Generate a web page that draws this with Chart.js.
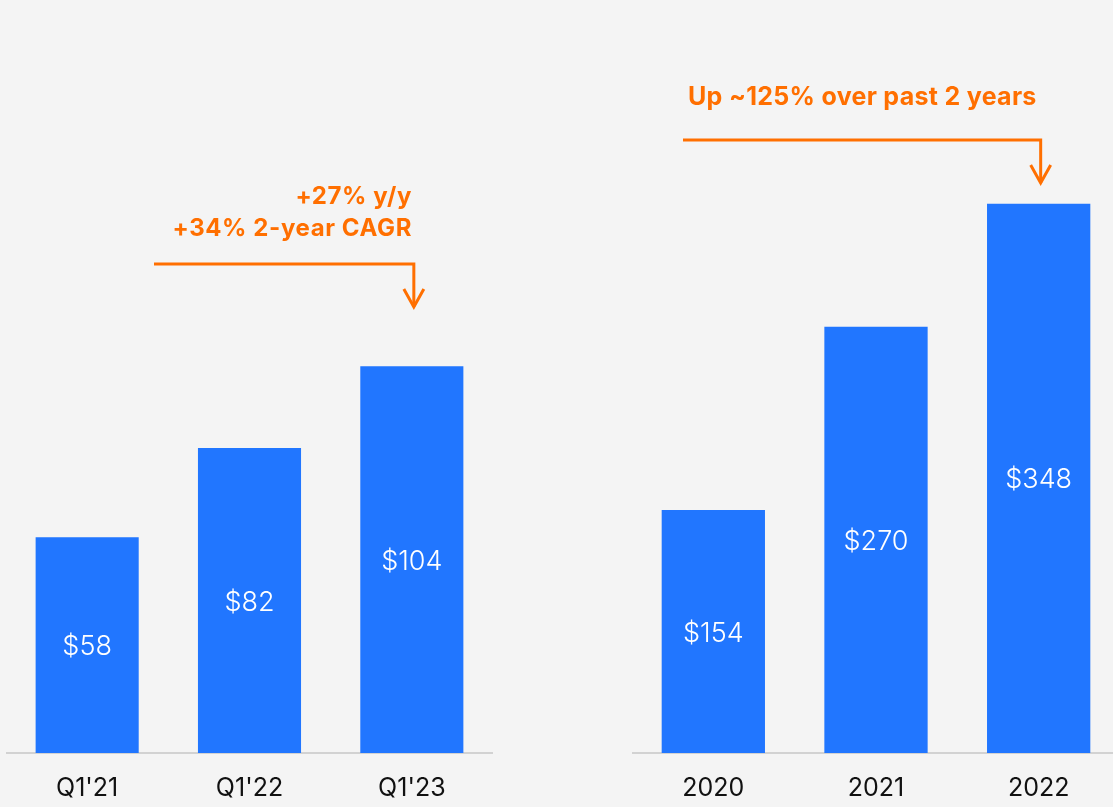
<!DOCTYPE html>
<html>
<head>
<meta charset="utf-8">
<script src="https://cdn.jsdelivr.net/npm/chart.js@4.4.1/dist/chart.umd.min.js"></script>
<style>
  html, body { margin: 0; padding: 0; background: #f4f4f4; overflow: hidden; width: 1113px; height: 807px; }
  .box { position: absolute; top: 0; height: 807px; }
  #left { left: 6px; width: 487px; }
  #right { left: 632px; width: 488px; }
</style>
</head>
<body>
<div class="box" id="left"><canvas id="chartLeft"></canvas></div>
<div class="box" id="right"><canvas id="chartRight"></canvas></div>
<script>
const quarterLabels = ["Q1'21", "Q1'22", "Q1'23"]
const quarterValues = [58, 82, 104]
const yearLabels = ['2020', '2021', '2022']
const yearValues = [154, 270, 348]

const BLUE = '#2176ff'
const ORANGE = '#ff6f00'

// white $ labels in the middle of each bar
const valueLabels = {
  id: 'valueLabels',
  afterDatasetsDraw(chart) {
    const ctx = chart.ctx
    const meta = chart.getDatasetMeta(0)
    ctx.save()
    ctx.fillStyle = '#ffffff'
    ctx.font = '300 27px Inter'
    ctx.textAlign = 'center'
    ctx.textBaseline = 'middle'
    meta.data.forEach((bar, i) => {
      const v = chart.data.datasets[0].data[i]
      ctx.fillText('$' + v, bar.x, (bar.y + bar.base) / 2 + 2)
    })
    ctx.restore()
  }
}

// orange callout text + bent arrow pointing at the last bar
function callout(opts) {
  return {
    id: 'callout',
    afterDraw(chart) {
      const ctx = chart.ctx
      const bars = chart.getDatasetMeta(0).data
      const endX = bars[bars.length - 1].x + 2
      ctx.save()
      ctx.fillStyle = ORANGE
      ctx.font = opts.font
      ctx.letterSpacing = opts.spacing
      ctx.textAlign = opts.align
      ctx.textBaseline = 'alphabetic'
      opts.lines.forEach((t, i) => ctx.fillText(t, opts.textX, opts.baselines[i]))

      ctx.strokeStyle = ORANGE
      ctx.lineWidth = 3
      ctx.lineJoin = 'miter'
      ctx.beginPath()
      ctx.moveTo(opts.startX, opts.lineY)
      ctx.lineTo(endX, opts.lineY)
      ctx.lineTo(endX, opts.tipY)
      ctx.stroke()
      ctx.beginPath()
      ctx.moveTo(endX - 10, opts.tipY - 18)
      ctx.lineTo(endX, opts.tipY)
      ctx.lineTo(endX + 10, opts.tipY - 18)
      ctx.stroke()
      ctx.restore()
    }
  }
}

function makeChart(id, labels, values, yMax, note) {
  return new Chart(document.getElementById(id), {
    type: 'bar',
    data: {
      labels: labels,
      datasets: [{
        data: values,
        backgroundColor: BLUE,
        borderWidth: 0,
        categoryPercentage: 1,
        barPercentage: 0.635
      }]
    },
    options: {
      responsive: true,
      maintainAspectRatio: false,
      animation: false,
      layout: { padding: 0 },
      plugins: { legend: { display: false }, tooltip: { enabled: false } },
      scales: {
        x: {
          grid: { display: false, drawTicks: false },
          border: { display: true, color: '#d2d2d2', width: 2 },
          ticks: { color: '#111111', font: { family: 'Inter', size: 25 }, padding: 20 },
          afterFit(scale) { scale.height = 54 }
        },
        y: { display: false, min: 0, max: yMax }
      }
    },
    plugins: [valueLabels, callout(note)]
  })
}

makeChart('chartLeft', quarterLabels, quarterValues, 202.5, {
  lines: ['+27% y/y', '+34% 2-year CAGR'],
  font: '700 24px Inter',
  spacing: '0.6px',
  align: 'right',
  textX: 406,
  baselines: [204, 236],
  startX: 148,
  lineY: 264,
  tipY: 307
})

makeChart('chartRight', yearLabels, yearValues, 477, {
  lines: ['Up ~125% over past 2 years'],
  font: '700 25px Inter',
  spacing: '0.3px',
  align: 'left',
  textX: 56,
  baselines: [105],
  startX: 51,
  lineY: 140,
  tipY: 183
})
</script>
</body>
</html>
